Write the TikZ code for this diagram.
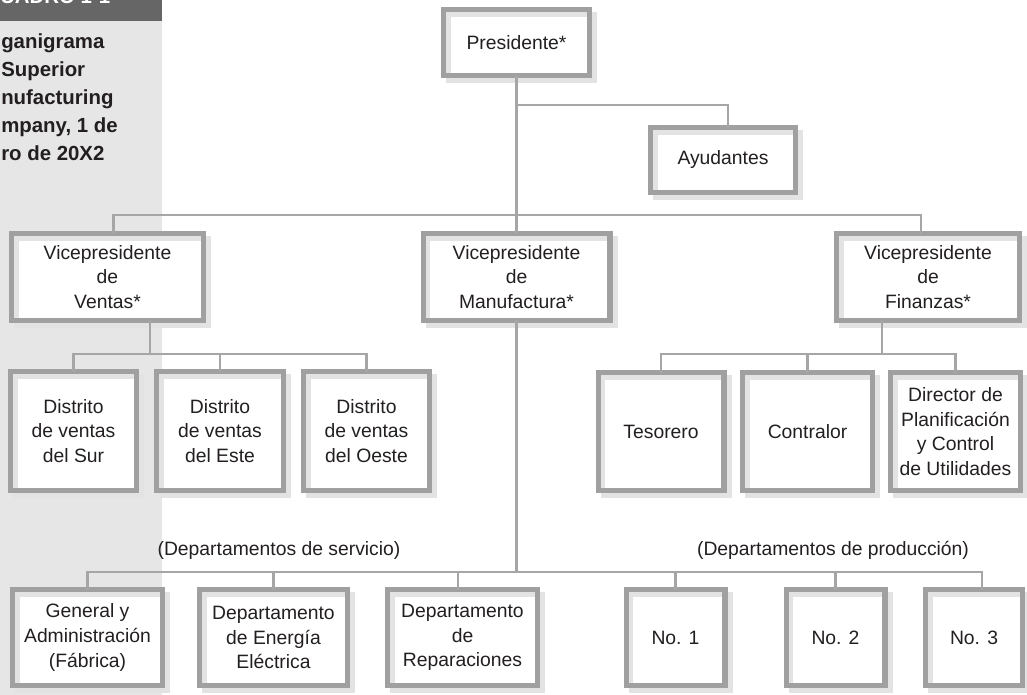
\documentclass[tikz,border=0pt]{standalone}
\usepackage{fontspec}
\setmainfont{Liberation Sans}
\definecolor{orgline}{HTML}{A6A6A6}
\definecolor{orgframe}{HTML}{A0A0A0}
\definecolor{orgshade}{HTML}{E3E3E3}
\definecolor{orgpanel}{HTML}{E6E6E6}
\definecolor{orghead}{HTML}{666666}
\definecolor{orgink}{HTML}{231F20}
\newcommand\orgfont{\fontsize{14.5}{18.5}\selectfont}
\newcommand\sidefont{\fontsize{15.3}{21}\selectfont\bfseries}
\tikzset{
  unit/.style 2 args={minimum width=#1*0.75pt-4.1pt,minimum height=#2*0.75pt-4.1pt},
  org/.style={draw=orgframe,line width=4.1pt,fill=white,text=orgink,font=\orgfont,align=center,inner sep=0pt,outer sep=0pt,
    preaction={draw=orgshade,fill=orgshade,line width=4.1pt,transform canvas={shift={(3.75pt,-3.75pt)}}},
    path picture={\draw[orgshade,line width=10.6pt] (path picture bounding box.south west) -- (path picture bounding box.north west) -- (path picture bounding box.north east);}},
  lnk/.style={draw=orgline,line width=1.7pt},
  grp/.style={font=\orgfont,text=orgink,inner sep=0pt},
  side/.style={font=\sidefont,text=orgink,inner sep=0pt,anchor=base west},
}
\begin{document}
\begin{tikzpicture}[x=0.75pt,y=-0.75pt]
  \useasboundingbox (0,0) rectangle (1027,695);
  % side panel
  \fill[orgpanel] (0,21) rectangle (162,695);
  \fill[orghead] (0,0) rectangle (162,21);
  \node[side,text=white] (cuadro) at (0,4) {UADRO 1-1};
  \foreach \t/\yy [count=\i] in {ganigrama/49,Superior/77,nufacturing/105,{mpany, 1 de}/133,{ro de 20X2}/161}
    \node[side] (tit\i) at (1,\yy) {\t};

  % boxes
  \node[org,unit={151}{71}] (pres) at (516.5,42.5) {Presidente*};
  \node[org,unit={150}{70}] (ayud) at (723,160) {Ayudantes};
  \node[org,unit={197}{92}] (vpv) at (107.5,277) {Vicepresidente\\de\\Ventas*};
  \node[org,unit={192}{92}] (vpm) at (516.5,277) {Vicepresidente\\de\\Manufactura*};
  \node[org,unit={188}{92}] (vpf) at (928,277) {Vicepresidente\\de\\Finanzas*};
  \node[org,unit={131}{124}] (sur) at (73.5,431) {Distrito\\de ventas\\del Sur};
  \node[org,unit={132}{124}] (est) at (220,431) {Distrito\\de ventas\\del Este};
  \node[org,unit={131}{124}] (oes) at (366.5,431) {Distrito\\de ventas\\del Oeste};
  \node[org,unit={131}{123}] (tes) at (661,431.5) {Tesorero};
  \node[org,unit={135}{123}] (con) at (807.5,431.5) {Contralor};
  \node[org,unit={135}{123}] (dir) at (955.5,431.5) {Director de\\Planificación\\y Control\\de Utilidades};
  \node[grp] (servicio) at (279,550) {(Departamentos de servicio)};
  \node[grp] (produccion) at (833,550) {(Departamentos de producción)};
  \node[org,unit={155}{101}] (gen) at (87.5,637.5) {General y\\Administración\\(Fábrica)};
  \node[org,unit={153}{101}] (ene) at (273.5,637.5) {Departamento\\de Energía\\Eléctrica};
  \node[org,unit={155}{101}] (rep) at (462.5,637.5) {Departamento\\de\\Reparaciones};
  \node[org,unit={104}{101}] (no1) at (675.5,637.5) {No. 1};
  \node[org,unit={104}{101}] (no2) at (835.5,637.5) {No. 2};
  \node[org,unit={102}{101}] (no3) at (974,637.5) {No. 3};

  % buses and connection points
  \coordinate (abus) at (0,105);
  \coordinate (vbus) at (0,215);
  \coordinate (dbus) at (0,354);
  \coordinate (bbus) at (0,572);
  \coordinate (ayin) at ([xshift=3.75pt]ayud.north);
  \coordinate (vpvin) at ([xshift=4.5pt]vpv.north);
  \coordinate (vpfin) at ([xshift=-5.25pt]vpf.north);
  \coordinate (vpvout) at ([xshift=32pt]vpv.south);
  \coordinate (vpfout) at ([xshift=-34.5pt]vpf.south);
  \coordinate (repin) at ([xshift=-3.4pt]rep.north);
  \coordinate (no3in) at ([xshift=6pt]no3.north);

  \draw[lnk] (pres.south) -- (vpm.north);
  \draw[lnk] (pres.south |- abus) -| (ayin);
  \draw[lnk] (vpvin) |- (vpfin |- vbus) -- (vpfin);
  \draw[lnk] (vpvout) -- (vpvout |- dbus);
  \draw[lnk] (sur.north) |- (oes.north |- dbus) -- (oes.north);
  \draw[lnk] (est.north) -- (est.north |- dbus);
  \draw[lnk] (vpfout) -- (vpfout |- dbus);
  \draw[lnk] (tes.north) |- (dir.north |- dbus) -- (dir.north);
  \draw[lnk] (con.north) -- (con.north |- dbus);
  \draw[lnk] (vpm.south) -- (vpm.south |- bbus);
  \draw[lnk] (gen.north) |- (no3in |- bbus) -- (no3in);
  \foreach \b in {ene,repin,no1,no2}
    \draw[lnk] (\b |- bbus) -- (\b);
\end{tikzpicture}
\end{document}
